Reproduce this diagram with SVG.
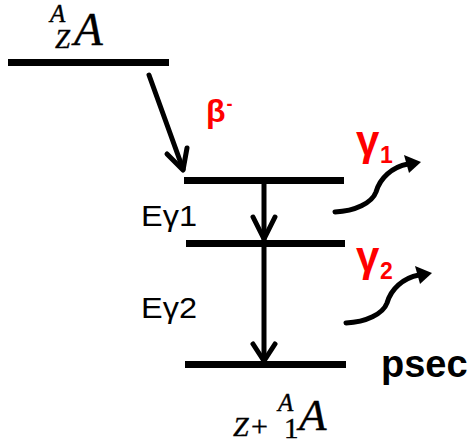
<svg xmlns="http://www.w3.org/2000/svg" width="469" height="443" viewBox="0 0 469 443">
<style>
.lvl{stroke:#000;stroke-width:7;fill:none}
.ln{stroke:#000;stroke-width:5;fill:none;stroke-linecap:round;stroke-linejoin:round}
.math{font-family:"Liberation Serif","DejaVu Serif",serif;font-style:italic;fill:#000;stroke:#000;stroke-width:0.4}
.up{font-style:normal}
.lab{font-family:"Liberation Sans","DejaVu Sans",sans-serif;fill:#000}
.red{font-family:"Liberation Sans","DejaVu Sans",sans-serif;font-weight:bold;fill:#ff0000}
</style>
<g id="parent">
<line class="lvl" x1="8" y1="62.5" x2="169" y2="62.5"/>
<text class="math" x="50" y="22" font-size="25">A<tspan x="55" y="48" font-size="27">Z</tspan><tspan x="74" y="45" font-size="47">A</tspan></text>
</g>
<g id="level1">
<line class="lvl" x1="184" y1="180.5" x2="344" y2="180.5"/>
</g>
<g id="level2">
<line class="lvl" x1="186" y1="243.5" x2="345" y2="243.5"/>
<text class="lab" x="141" y="226" font-size="30" textLength="56" lengthAdjust="spacingAndGlyphs">Eγ1</text>
</g>
<g id="level3">
<line class="lvl" x1="185" y1="364.5" x2="346" y2="364.5"/>
<text class="lab" x="141" y="318" font-size="30" textLength="56" lengthAdjust="spacingAndGlyphs">Eγ2</text>
<text class="lab" x="381" y="377" font-size="38" font-weight="bold">psec</text>
<text class="math" x="233" y="436" font-size="28">Z<tspan class="up" x="251" font-size="30">+</tspan><tspan class="up" x="284" y="438" font-size="29">1</tspan><tspan x="278" y="411" font-size="25">A</tspan><tspan x="299" y="430" font-size="45">A</tspan></text>
</g>
<g id="connectors">
<line class="ln" x1="149" y1="75" x2="183" y2="169"/>
<polyline class="ln" points="167,154 183,170 187,148"/>
<line class="ln" x1="264" y1="184" x2="264" y2="239"/>
<polyline class="ln" points="253,217 264,239 275,217"/>
<line class="ln" x1="264" y1="247" x2="264" y2="361"/>
<polyline class="ln" points="253,344 264,361 275,344"/>
<g id="gamma1">
<path class="ln" d="M335,212 C355,211 372,203 376,192 C380,178 392,167 408,164"/>
<polygon points="421,162 404,155 409,173" fill="#000"/>
<text class="red" x="356" y="155" font-size="42">γ<tspan x="380" y="163" font-size="23">1</tspan></text>
</g>
<g id="gamma2">
<path class="ln" d="M346,323 C366,322 383,314 387,303 C391,289 403,278 419,275"/>
<polygon points="432,273 415,266 420,284" fill="#000"/>
<text class="red" x="356" y="271" font-size="42">γ<tspan x="380" y="279" font-size="23">2</tspan></text>
</g>
<text class="red" x="206" y="122" font-size="32">β<tspan dx="1" dy="-12" font-size="18">-</tspan></text>
</g>
</svg>
